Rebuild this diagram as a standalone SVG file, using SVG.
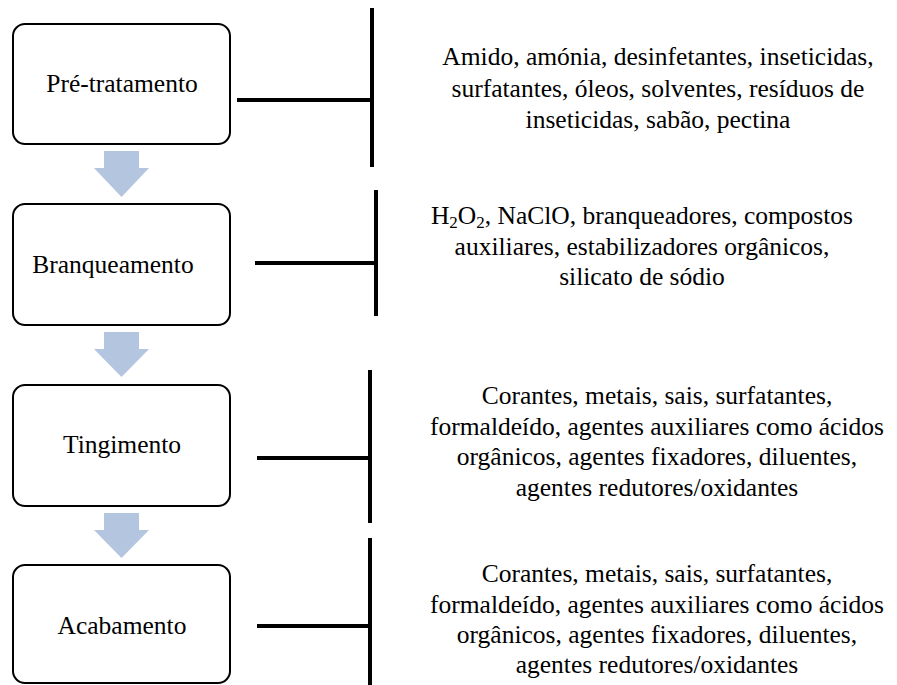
<svg xmlns="http://www.w3.org/2000/svg" width="897" height="685" viewBox="0 0 897 685">
<style>
.box{fill:#fff;stroke:#000;stroke-width:2}
text{font-family:'Liberation Serif','Times New Roman',Times,serif;font-size:25.5px;fill:#000;text-anchor:middle}
.con{stroke:#000;stroke-width:4;fill:none}
.arr{fill:#b4c5df}
</style>
<rect width="897" height="685" fill="#fff"/>
<g id="connectors">
<path class="con" d="M237 100H372M372 8V167"/>
<path class="con" d="M255 263H376M376 190V316"/>
<path class="con" d="M257 458H370M370 370V523"/>
<path class="con" d="M257 626H370M370 538V685"/>
<polygon class="arr" points="104,151 139,151 139,168 149,168 121.5,197 94,168 104,168"/>
<polygon class="arr" points="104,332 139,332 139,349 149,349 121.5,377 94,349 104,349"/>
<polygon class="arr" points="104,513 139,513 139,530 149,530 121.5,558 94,530 104,530"/>
</g>
<g id="pretratamento">
<rect class="box" x="13" y="24" width="217" height="120" rx="12"/>
<text x="122" y="92">Pré-tratamento</text>
</g>
<g id="branqueamento">
<rect class="box" x="13" y="204" width="217" height="121" rx="12"/>
<text x="113" y="273">Branqueamento</text>
</g>
<g id="tingimento">
<rect class="box" x="13" y="385" width="217" height="121" rx="12"/>
<text x="122" y="453">Tingimento</text>
</g>
<g id="acabamento">
<rect class="box" x="13" y="565" width="217" height="118" rx="12"/>
<text x="122" y="634">Acabamento</text>
</g>
<g id="txt-pretratamento">
<text x="658" y="65">Amido, amónia, desinfetantes, inseticidas,</text>
<text x="658" y="97">surfatantes, óleos, solventes, resíduos de</text>
<text x="658" y="128">inseticidas, sabão, pectina</text>
</g>
<g id="txt-branqueamento">
<text x="642" y="224">H<tspan font-size="17" dy="4">2</tspan><tspan dy="-4">O</tspan><tspan font-size="17" dy="4">2</tspan><tspan dy="-4">, NaClO, branqueadores, compostos</tspan></text>
<text x="642" y="255">auxiliares, estabilizadores orgânicos,</text>
<text x="642" y="285">silicato de sódio</text>
</g>
<g id="txt-tingimento">
<text x="657" y="404">Corantes, metais, sais, surfatantes,</text>
<text x="657" y="435">formaldeído, agentes auxiliares como ácidos</text>
<text x="657" y="465">orgânicos, agentes fixadores, diluentes,</text>
<text x="657" y="496">agentes redutores/oxidantes</text>
</g>
<g id="txt-acabamento">
<text x="657" y="582">Corantes, metais, sais, surfatantes,</text>
<text x="657" y="613">formaldeído, agentes auxiliares como ácidos</text>
<text x="657" y="643">orgânicos, agentes fixadores, diluentes,</text>
<text x="657" y="673">agentes redutores/oxidantes</text>
</g>
</svg>
